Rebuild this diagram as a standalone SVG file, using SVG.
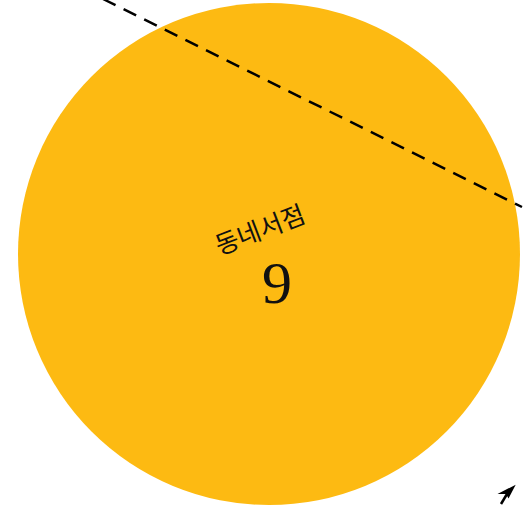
<svg xmlns="http://www.w3.org/2000/svg" width="528" height="506" viewBox="0 0 528 506">
<style>
.lbl{font-family:"Noto Sans CJK KR","Noto Sans",sans-serif;font-size:25.5px;fill:#111}
.num{font-family:"Liberation Serif",serif;font-size:60px;fill:#111}
</style>
<g id="node-9">
<circle cx="269" cy="254" r="251" fill="#FDBA12"/>
<text class="lbl" x="260" y="239" text-anchor="middle" transform="rotate(-21 260 230)">동네서점</text>
<text class="num" x="277" y="303" text-anchor="middle">9</text>
</g>
<g id="connectors">
<line x1="103" y1="-1" x2="522" y2="207" stroke="#000" stroke-width="2.5" stroke-dasharray="14 9"/>
<line x1="501" y1="504" x2="507" y2="494" stroke="#000" stroke-width="2.5"/>
<path d="M515.7,484.7 L508.5,498.5 L506,494 L497.5,494 z" fill="#000"/>
</g>
</svg>
